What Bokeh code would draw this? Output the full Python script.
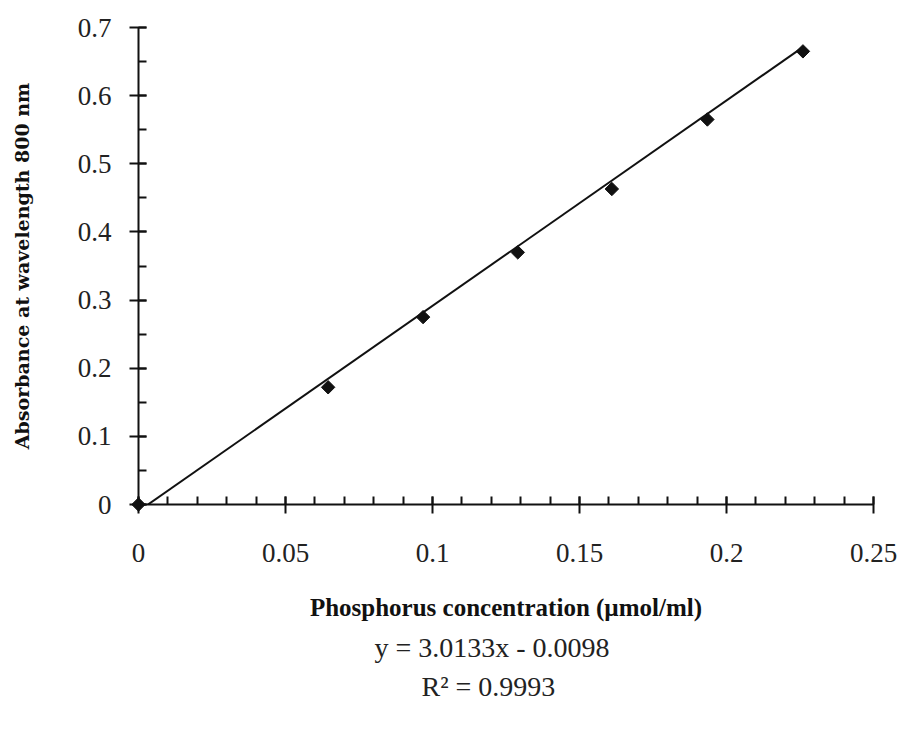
import math
from bokeh.plotting import figure
from bokeh.models import Range1d, FixedTicker, Title
from bokeh.embed import file_html
from bokeh.resources import INLINE

# Data
conc = [0.0, 0.0645, 0.0968, 0.129, 0.161, 0.1935, 0.226]
absorb = [0.0, 0.172, 0.275, 0.370, 0.463, 0.565, 0.665]
slope = 3.0133
intercept = -0.0098
r2 = 0.9993
x_ticks = [0, 0.05, 0.1, 0.15, 0.2, 0.25]
x_minor = [round(i * 0.01, 2) for i in range(26)]
y_ticks = [0, 0.1, 0.2, 0.3, 0.4, 0.5, 0.6, 0.7]
y_minor = [round(i * 0.05, 2) for i in range(15)]

FONT = "Liberation Serif"

p = figure(width=900, height=734, output_backend="svg", toolbar_location=None,
           x_range=Range1d(0, 0.25), y_range=Range1d(0, 0.7),
           min_border_left=138, min_border_right=27, min_border_top=27, min_border_bottom=230)
p.frame_width = 735
p.frame_height = 477
p.outline_line_color = None
p.grid.visible = False
p.background_fill_color = "white"

p.xaxis.ticker = FixedTicker(ticks=x_ticks, minor_ticks=x_minor)
p.yaxis.ticker = FixedTicker(ticks=y_ticks, minor_ticks=y_minor)
p.xaxis.major_label_overrides = {0: "0", 0.05: "0.05", 0.1: "0.1", 0.15: "0.15", 0.2: "0.2", 0.25: "0.25"}
p.yaxis.major_label_overrides = {0: "0"}

for ax in (p.xaxis, p.yaxis):
    ax.axis_line_color = "#111111"
    ax.axis_line_width = 2
    ax.major_tick_line_color = "#111111"
    ax.major_tick_line_width = 2
    ax.minor_tick_line_color = "#111111"
    ax.minor_tick_line_width = 2
    ax.major_tick_in = 8
    ax.major_tick_out = 9
    ax.minor_tick_in = 8
    ax.minor_tick_out = 0
    ax.major_label_text_font = FONT
    ax.major_label_text_font_size = "27px"
    ax.major_label_text_color = "#222222"
    ax.axis_label_text_font_style = "bold"
    ax.axis_label_text_color = "#111111"

p.xaxis.major_label_standoff = 30
p.yaxis.major_label_standoff = 18

p.xaxis.axis_label = "Phosphorus concentration (\u00b5mol/ml)"
p.xaxis.axis_label_text_font = FONT
p.xaxis.axis_label_text_font_size = "25px"
p.xaxis.axis_label_standoff = 29

p.yaxis.axis_label = "Absorbance at wavelength 800 nm"
p.yaxis.axis_label_text_font = "DejaVu Serif"
p.yaxis.axis_label_text_font_size = "19px"
p.yaxis.axis_label_standoff = 42

# trendline over the data range
x0, x1 = min(conc), max(conc)
p.line([x0, x1], [slope * x0 + intercept, slope * x1 + intercept], line_color="#111111", line_width=2)
pts = p.scatter(conc, absorb, marker="square", angle=math.pi / 4, size=9.5,
                fill_color="#111111", line_color="#111111")
pts.level = "overlay"

eq1 = Title(text=f"y = {slope}x - {abs(intercept)}", align="left", offset=236,
            text_font=FONT, text_font_size="28px", text_font_style="normal", text_color="#222222",
            standoff=12)
eq2 = Title(text=f"R\u00b2 = {r2}", align="left", offset=283,
            text_font=FONT, text_font_size="28px", text_font_style="normal", text_color="#222222",
            standoff=0)
p.add_layout(eq1, "below")
p.add_layout(eq2, "below")

open("out.html", "w").write(file_html(p, INLINE))
